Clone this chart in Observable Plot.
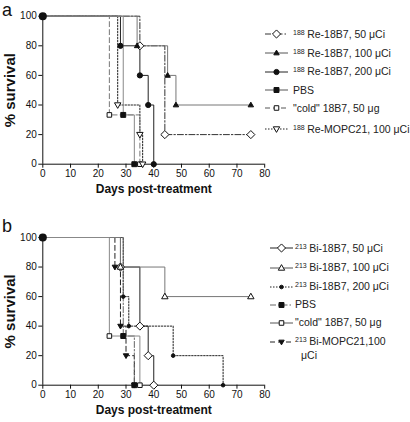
<!DOCTYPE html>
<html><head><meta charset="utf-8">
<script src="https://cdn.jsdelivr.net/npm/d3@7"></script>
<script src="https://cdn.jsdelivr.net/npm/@observablehq/plot@0.6"></script>
<style>
body{margin:0;background:#fff;font-family:Arial,"Liberation Sans",sans-serif;}
#wrap{position:relative;width:410px;height:422px;overflow:hidden;background:#fff;}
.panel{position:absolute;left:0;}
.panel g[aria-label="y-axis label"] text{font-weight:bold;font-size:15px;fill:#111;}
.lbl{position:absolute;font-size:18px;color:#111;line-height:18px;}
.leg{position:absolute;white-space:nowrap;font-size:10.5px;color:#222;line-height:12px;}
.sup{font-size:7px;position:relative;top:-3px;margin-right:2.5px;}
</style></head><body>
<div id="wrap"></div>
<script>
// ---- data: [day, % survival] at each step ----
const xTicks = [0,10,20,30,40,50,60,70,80];
const yTicks = [0,20,40,60,80,100];

// panel a
const aRe50  = [[0,100],[35,80],[44,20],[75,20]];
const aRe100 = [[0,100],[34,80],[45,60],[48,40],[75,40]];
const aRe200 = [[0,100],[28,80],[35,60],[38,40],[40,0]];
const aPBS   = [[0,100],[29,33.3],[33,0]];
const aCold  = [[0,100],[24,33.3],[35,0]];
const aMOPC  = [[0,100],[27,40],[35,20],[36,0]];
const legendSupA  = ["188","188","188","","","188"];
const legendTextA = ["Re-18B7, 50 \u03bcCi","Re-18B7, 100  \u03bcCi","Re-18B7, 200 \u03bcCi","PBS","\"cold\" 18B7, 50  \u03bcg","Re-MOPC21, 100 \u03bcCi"];

// panel b
const bBi50  = [[0,100],[28,80],[35,40],[38,20],[40,0]];
const bBi100 = [[0,100],[28,80],[44,60],[75,60]];
const bBi200 = [[0,100],[29,60],[31,40],[47,20],[65,0]];
const bPBS   = [[0,100],[29,33.3],[33,0]];
const bCold  = [[0,100],[24,33.3],[35,0]];
const bMOPC  = [[0,100],[26,80],[28,40],[30,20],[33,0]];
const legendSupB  = ["213","213","213","","","213"];
const legendTextB = ["Bi-18B7, 50 \u03bcCi","Bi-18B7, 100 \u03bcCi","Bi-18B7, 200 \u03bcCi","PBS","\"cold\" 18B7, 50  \u03bcg","Bi-MOPC21,100|\u03bcCi"];

// ---- symbols ----
const SYM = {
  circle:{draw(c,s){const r=Math.sqrt(s/Math.PI);c.moveTo(r,0);c.arc(0,0,r,0,2*Math.PI);}},
  diamond:{draw(c,s){const r=Math.sqrt(s/Math.PI)*1.35;c.moveTo(0,-r);c.lineTo(r,0);c.lineTo(0,r);c.lineTo(-r,0);c.closePath();}},
  triUp:{draw(c,s){const r=Math.sqrt(s/Math.PI)*1.3;c.moveTo(0,-r);c.lineTo(r*0.95,r*0.65);c.lineTo(-r*0.95,r*0.65);c.closePath();}},
  triDown:{draw(c,s){const r=Math.sqrt(s/Math.PI)*1.3;c.moveTo(0,r);c.lineTo(r*0.95,-r*0.65);c.lineTo(-r*0.95,-r*0.65);c.closePath();}},
  square:{draw(c,s){const r=Math.sqrt(s/Math.PI)*0.95;c.moveTo(-r,-r);c.lineTo(r,-r);c.lineTo(r,r);c.lineTo(-r,r);c.closePath();}}
};
const DASHDOT="6,2,1.5,2", DASH="5,3", DOT="1.5,1.5";

const seriesA = [
  {data:aRe50, sym:"diamond", fill:"white", stroke:"#333", dash:DASHDOT, r:3},
  {data:aRe100,sym:"triUp",   fill:"#111",  stroke:"#777", dash:null,    r:2.2},
  {data:aRe200,sym:"circle",  fill:"#111",  stroke:"#222", dash:null,    r:2.6},
  {data:aPBS,  sym:"square",  fill:"#111",  stroke:"#888", dash:null,    r:2.6},
  {data:aCold, sym:"square",  fill:"white", stroke:"#777", dash:DASH,    r:2.4},
  {data:aMOPC, sym:"triDown", fill:"white", stroke:"#222", dash:DOT,     r:2.6}
];
const seriesB = [
  {data:bBi50, sym:"diamond", fill:"white", stroke:"#222", dash:null,    r:3},
  {data:bBi100,sym:"triUp",   fill:"white", stroke:"#777", dash:null,    r:2.6},
  {data:bBi200,sym:"circle",  fill:"#111",  stroke:"#222", dash:DOT,     r:1.8},
  {data:bPBS,  sym:"square",  fill:"#111",  stroke:"#666", dash:DASHDOT, r:2.6},
  {data:bCold, sym:"square",  fill:"white", stroke:"#888", dash:null,    r:2.4},
  {data:bMOPC, sym:"triDown", fill:"#111",  stroke:"#222", dash:DASH,    r:2.2}
];

function panel(series, height, mt, mb){
  const marks = [
    Plot.ruleY([0],{stroke:"#111",strokeWidth:1}),
    Plot.ruleX([0],{stroke:"#111",strokeWidth:1})
  ];
  const order = series.slice().sort((a,b)=>((a.dash?0:1)-(b.dash?0:1)) || (a.stroke<b.stroke?-1:1));
  for (const s of order){
    const pts = s.data.map(([d,v])=>({d,v}));
    marks.push(Plot.line(pts,{x:"d",y:"v",curve:"step-after",stroke:s.stroke,strokeWidth:1,strokeDasharray:s.dash}));
  }
  for (const s of series){
    const pts = s.data.slice(1).map(([d,v])=>({d,v}));
    marks.push(Plot.dot(pts,{x:"d",y:"v",symbol:SYM[s.sym],r:s.r,fill:s.fill,stroke:"#111",strokeWidth:1}));
  }
  marks.push(Plot.dot([{d:0,v:100}],{x:"d",y:"v",r:3.3,fill:"#111",stroke:"#111"}));
  marks.push(Plot.text(["Days post-treatment"],{text:d=>d,frameAnchor:"bottom",dy:29,fontWeight:"bold",fontSize:12,fill:"#111"}));
  return Plot.plot({
    width:410, height, marginLeft:42.3, marginRight:145.8, marginTop:mt, marginBottom:mb,
    x:{domain:[0,80],ticks:xTicks,tickSize:4,tickPadding:2,label:null},
    y:{domain:[0,100],ticks:yTicks,tickSize:4,tickPadding:2,label:"% survival",labelAnchor:"center",labelOffset:38.5,labelArrow:"none"},
    style:{fontSize:"10px",fontFamily:"Arial, 'Liberation Sans', sans-serif",color:"#111",background:"transparent",overflow:"visible"},
    marks
  });
}

const wrap = document.getElementById("wrap");
function place(el, top){ el.classList.add("panel"); el.style.top = top+"px"; wrap.appendChild(el); }
place(panel(seriesA, 205, 15.7, 41.3), 0);
place(panel(seriesB, 217, 32, 37.3), 205);

function label(t, x, y){ const d=document.createElement("div"); d.className="lbl"; d.textContent=t; d.style.left=x+"px"; d.style.top=y+"px"; wrap.appendChild(d); }
label("a", 2, 1.2);
label("b", 2, 217);

function legend(series, sups, texts, ys, sx, tx){
  series.forEach((s,i)=>{
    const svg = d3.create("svg").attr("width",26).attr("height",12)
      .style("position","absolute").style("left",sx+"px").style("top",(ys[i]-6)+"px");
    svg.append("line").attr("x1",0).attr("x2",23).attr("y1",6).attr("y2",6)
      .attr("stroke",s.stroke>="#777"?"#555":s.stroke).attr("stroke-width",1).attr("stroke-dasharray",s.dash);
    const p = d3.path(); SYM[s.sym].draw(p, s.r*s.r*Math.PI);
    svg.append("path").attr("d",p.toString()).attr("transform","translate(11.5,6)")
      .attr("fill",s.fill).attr("stroke","#111").attr("stroke-width",1);
    wrap.appendChild(svg.node());
    const d = document.createElement("div"); d.className="leg";
    d.style.left=tx+"px"; d.style.top=(ys[i]-6.5)+"px";
    const parts = texts[i].split("|");
    if (sups[i]){ const sp=document.createElement("span"); sp.className="sup"; sp.textContent=sups[i]; d.appendChild(sp); }
    d.appendChild(document.createTextNode(parts[0]));
    if (parts[1]){ d.appendChild(document.createElement("br")); const s2=document.createElement("span"); s2.style.marginLeft="6px"; s2.textContent=parts[1]; d.appendChild(s2); }
    wrap.appendChild(d);
  });
}
legend(seriesA, legendSupA, legendTextA, [34,53,71.5,90,108,129], 265, 293);
legend(seriesB, legendSupB, legendTextB, [248.3,267.7,286.7,304.5,322.5,341.7], 270, 295);
</script>
</body></html>
